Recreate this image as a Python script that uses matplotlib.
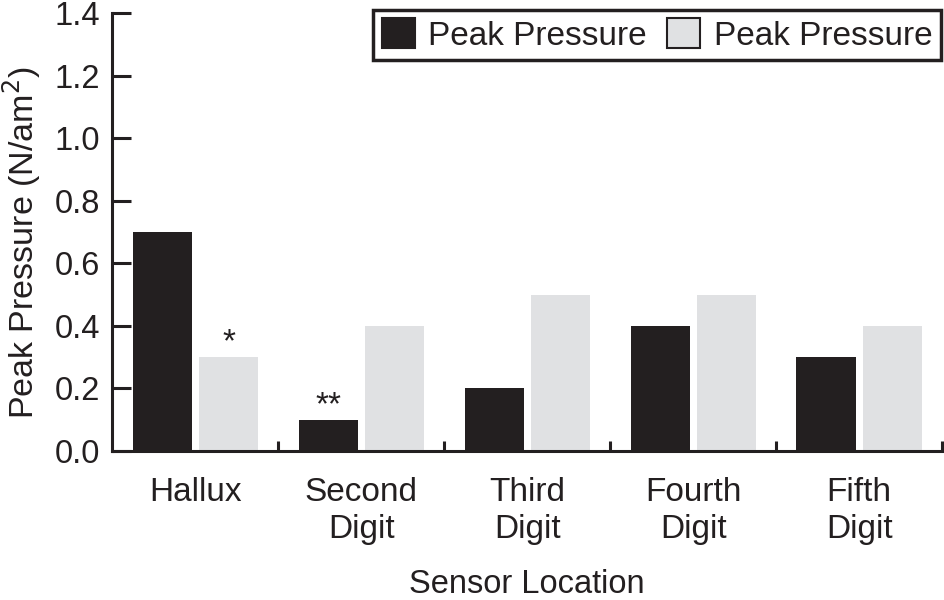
#!/usr/bin/env python3
#
import matplotlib
matplotlib.use('Agg')
import matplotlib.pyplot as plt
import numpy as np
from matplotlib.patches import Patch

plt.rcParams['font.family'] = ['Liberation Sans', 'DejaVu Sans']

CATEGORIES = ["Hallux", "Second\nDigit", "Third\nDigit", "Fourth\nDigit", "Fifth\nDigit"]
SERIES_A = [0.7, 0.1, 0.2, 0.4, 0.3]
SERIES_B = [0.3, 0.4, 0.5, 0.5, 0.4]
LABELS = ["Peak Pressure", "Peak Pressure"]
YTICKS = [0.0, 0.2, 0.4, 0.6, 0.8, 1.0, 1.2, 1.4]
MARKS = [(0, 'b', '*'), (1, 'a', '**')]

DARK = '#231f20'
LIGHT = '#e0e1e3'
FSIZE = 24


def graph(filename):
  x = np.arange(len(CATEGORIES))
  fig = plt.figure(figsize=(9.45, 6), dpi=100)
  ax = fig.add_axes([0.119, 0.2483, 0.878, 0.73])

  width = 0.36
  ax.bar(x - 0.198, SERIES_A, width, color=DARK, linewidth=0)
  ax.bar(x + 0.2, SERIES_B, width, color=LIGHT, linewidth=0)

  for idx, which, txt in MARKS:
    if which == 'a':
      xpos, val = x[idx] - 0.198, SERIES_A[idx]
    else:
      xpos, val = x[idx] + 0.2, SERIES_B[idx]
    ax.annotate(txt, (xpos, val), textcoords="offset points", xytext=(0, -1),
                ha='center', va='bottom', fontsize=FSIZE, color=DARK)

  ax.set_xlim(-0.5, len(CATEGORIES) - 0.5)
  ax.set_ylim(0, 1.4)
  ax.set_yticks(YTICKS)
  ax.set_yticklabels([f"{t:.1f}" for t in YTICKS])
  ax.set_xticks(x)
  ax.set_xticklabels(CATEGORIES, linespacing=1.25)
  ax.set_xticks(np.arange(len(CATEGORIES)) + 0.5, minor=True)

  ax.tick_params(axis='y', direction='in', length=14, width=2.2, labelsize=23.5,
                 pad=9, color=DARK, labelcolor=DARK)
  ax.tick_params(axis='x', which='major', length=0, labelsize=FSIZE, pad=19,
                 labelcolor=DARK)
  ax.tick_params(axis='x', which='minor', direction='in', length=7, width=2.2,
                 color=DARK)

  for side in ('top', 'right'):
    ax.spines[side].set_visible(False)
  for side in ('left', 'bottom'):
    ax.spines[side].set_linewidth(2.2)
    ax.spines[side].set_color(DARK)

  ax.set_ylabel("Peak Pressure (N/am$^2$)", fontsize=24.5, color=DARK,
                va='center', ha='center')
  ax.yaxis.set_label_coords(-0.109, 0.476)
  ax.set_xlabel("Sensor Location", fontsize=23.5, color=DARK, labelpad=17)

  handles = [Patch(facecolor=DARK, edgecolor=DARK, linewidth=1.5),
             Patch(facecolor=LIGHT, edgecolor=DARK, linewidth=1.5)]
  leg = ax.legend(handles, LABELS, loc='upper right', bbox_to_anchor=(0.998, 1.007),
                  ncol=2, fontsize=FSIZE, fancybox=False, framealpha=1,
                  handlelength=1.0, handleheight=1.0, handletextpad=0.4,
                  columnspacing=0.6, borderpad=0.25, borderaxespad=0.0)
  leg.get_frame().set_edgecolor(DARK)
  leg.get_frame().set_linewidth(2.5)
  for txt in leg.get_texts():
    txt.set_color(DARK)

  fig.savefig(filename, dpi=100)
  plt.close(fig)
  return filename


if __name__ == "__main__":
  graph('out.png')
